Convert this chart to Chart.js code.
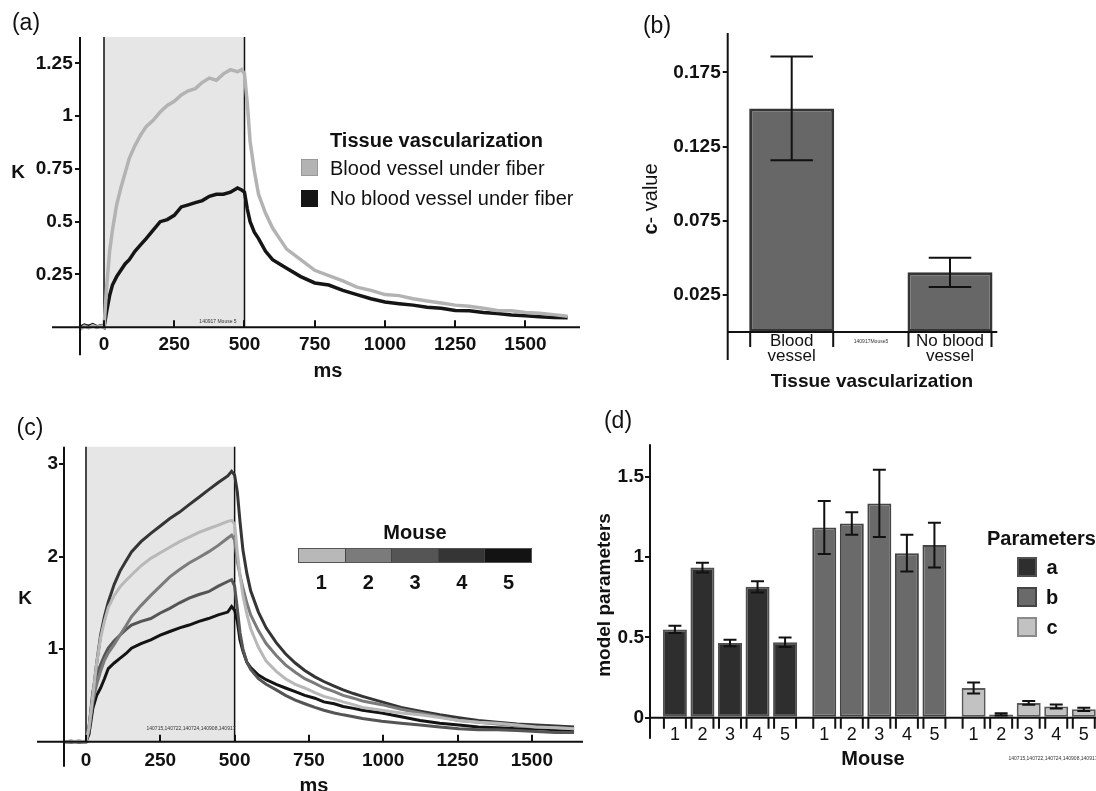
<!DOCTYPE html>
<html>
<head>
<meta charset="utf-8">
<script src="https://cdn.jsdelivr.net/npm/chart.js@4.4.1/dist/chart.umd.min.js"></script>
<style>
html, body { margin: 0; padding: 0; background: #fff; overflow: hidden; }
body { width: 1096px; height: 791px; position: relative; font-family: 'Liberation Sans', Arial, sans-serif; color: #111; }
canvas { position: absolute; }
.t { position: absolute; white-space: nowrap; line-height: 1; transform: translate(-50%, -50%); }
.l { position: absolute; white-space: nowrap; line-height: 1; transform: translate(0, -50%); }
.rot { transform: translate(-50%, -50%) rotate(-90deg); }
.b { font-weight: bold; }
.panel { font-size: 23px; }
.tiny { font-size: 5px; color: #333; }
.sq { position: absolute; box-sizing: border-box; }
</style>
</head>
<body>

<canvas id="chartA" width="590" height="390" style="left:0;top:0"></canvas>
<canvas id="chartB" width="506" height="390" style="left:590px;top:0"></canvas>
<canvas id="chartC" width="590" height="396" style="left:0;top:395px"></canvas>
<canvas id="chartD" width="506" height="396" style="left:590px;top:395px"></canvas>

<!-- panel labels -->
<div class="t panel" style="left:26px;top:22px">(a)</div>
<div class="t panel" style="left:657px;top:25px">(b)</div>
<div class="t panel" style="left:30px;top:427px">(c)</div>
<div class="t panel" style="left:618px;top:420px">(d)</div>

<!-- (a) titles + legend -->
<div class="t b" style="left:18px;top:171px;font-size:19px">K</div>
<div class="t b" style="left:328px;top:370px;font-size:20px">ms</div>
<div class="tiny t" style="left:218px;top:321px">140917 Mouse 5</div>
<div class="l b" style="left:330px;top:140px;font-size:20px">Tissue vascularization</div>
<div class="sq" style="left:301px;top:159px;width:17px;height:17px;background:#b3b3b3;border:1px solid #999"></div>
<div class="l" style="left:330px;top:168px;font-size:20px">Blood vessel under fiber</div>
<div class="sq" style="left:301px;top:190px;width:17px;height:17px;background:#151515"></div>
<div class="l" style="left:330px;top:198px;font-size:20px">No blood vessel under fiber</div>

<!-- (b) titles -->
<div class="t rot" style="left:650px;top:199px;font-size:20px"><b>c</b>- value</div>
<div class="t b" style="left:872px;top:380px;font-size:19px">Tissue vascularization</div>
<div class="tiny t" style="left:871px;top:341px">140917Mouse5</div>

<!-- (c) titles + legend -->
<div class="t b" style="left:25px;top:597px;font-size:19px">K</div>
<div class="t b" style="left:314px;top:785px;font-size:20px">ms</div>
<div class="tiny t" style="left:191px;top:728px">140715,140722,140724,140908,140917</div>
<div class="t b" style="left:415px;top:532px;font-size:20px">Mouse</div>
<div id="mouseBar" style="position:absolute;left:298px;top:548px;width:234px;height:15px;display:flex;border:1px solid #555;box-sizing:border-box"></div>
<div id="mouseNums"></div>

<!-- (d) titles + legend -->
<div class="t rot b" style="left:603px;top:595px;font-size:19px">model parameters</div>
<div class="t b" style="left:873px;top:758px;font-size:20px">Mouse</div>
<div class="tiny t" style="left:1053px;top:758px">140715,140722,140724,140908,140917</div>
<div class="l b" style="left:987px;top:538px;font-size:20px">Parameters</div>
<div id="paramLegend"></div>

<script>
// ---------- data ----------
// (a) one mouse, K over time for both tissue types
const TIME_A = [-85,-70,-55,-40,-25,-10,0,10,20,30,45,60,75,90,110,130,150,175,200,225,250,275,300,325,350,375,400,425,450,475,490,500,510,520,535,550,575,600,625,650,700,750,800,850,900,950,1000,1050,1100,1150,1200,1250,1300,1350,1400,1450,1500,1550,1600,1650];
const BLOOD_A = [-0.01,0.005,-0.003,0.008,0,0.006,0,0.2,0.36,0.46,0.58,0.66,0.73,0.8,0.86,0.91,0.95,0.98,1.02,1.05,1.07,1.1,1.12,1.13,1.16,1.18,1.17,1.2,1.22,1.21,1.22,1.2,1.06,0.88,0.74,0.63,0.54,0.47,0.42,0.37,0.32,0.27,0.245,0.22,0.19,0.175,0.155,0.15,0.135,0.125,0.115,0.105,0.1,0.09,0.08,0.078,0.07,0.066,0.06,0.052];
const NO_BLOOD_A = [0,0.01,0.004,0.012,0.002,0.008,0,0.08,0.15,0.2,0.24,0.27,0.3,0.32,0.36,0.39,0.42,0.46,0.5,0.51,0.53,0.57,0.58,0.59,0.6,0.62,0.63,0.63,0.64,0.66,0.65,0.64,0.56,0.5,0.45,0.42,0.36,0.32,0.3,0.28,0.24,0.21,0.2,0.175,0.155,0.135,0.12,0.112,0.105,0.095,0.09,0.08,0.078,0.07,0.065,0.058,0.055,0.05,0.046,0.045];
const X_TICKS = [0,250,500,750,1000,1250,1500];
const Y_TICKS_A = [0.25,0.5,0.75,1,1.25];
const STIM_ON = 0, STIM_OFF = 500;

// (b) c-value per tissue type
const VASC_LABELS = [['Blood','vessel'],['No blood','vessel']];
const C_VALUE = [0.1507, 0.0402];
const C_ERR = [0.035, 0.0098];
const Y_TICKS_B = [0.025,0.075,0.125,0.175];

// (c) five mice
const TIME_C = [-75,-50,-25,0,10,23,36,49,62,75,95,114,134,153,185,218,250,282,315,347,380,412,445,477,490,500,509,518,528,541,554,580,606,640,671,704,736,770,800,835,865,900,930,995,1060,1124,1190,1254,1320,1383,1450,1513,1580,1642];
const MOUSE1_K = [0,0,0.005,0,0.15,0.5,0.85,1.12,1.3,1.45,1.58,1.67,1.74,1.8,1.9,1.98,2.04,2.1,2.16,2.21,2.26,2.3,2.34,2.38,2.39,2.35,2.05,1.8,1.58,1.38,1.22,1.02,0.87,0.76,0.68,0.62,0.58,0.53,0.49,0.46,0.43,0.4,0.37,0.34,0.31,0.29,0.26,0.23,0.21,0.2,0.18,0.16,0.15,0.14];
const MOUSE2_K = [0,0,0.005,0,0.12,0.43,0.62,0.76,0.88,0.96,1.05,1.15,1.25,1.35,1.47,1.58,1.68,1.78,1.86,1.93,1.99,2.05,2.12,2.2,2.23,2.18,1.95,1.8,1.66,1.5,1.37,1.2,1.06,0.93,0.83,0.75,0.68,0.63,0.58,0.54,0.5,0.47,0.44,0.4,0.35,0.31,0.27,0.23,0.21,0.19,0.17,0.16,0.15,0.14];
const MOUSE3_K = [0,0.005,0,0,0.15,0.54,0.72,0.83,0.93,1.01,1.09,1.15,1.21,1.26,1.3,1.33,1.39,1.44,1.5,1.55,1.59,1.62,1.68,1.73,1.75,1.68,1.44,1.18,1,0.86,0.78,0.68,0.62,0.56,0.5,0.45,0.41,0.37,0.34,0.31,0.29,0.27,0.25,0.22,0.2,0.18,0.16,0.14,0.13,0.13,0.12,0.11,0.1,0.1];
const MOUSE4_K = [0,0.005,-0.005,0,0.15,0.5,0.85,1.15,1.35,1.51,1.7,1.84,1.95,2.05,2.16,2.25,2.33,2.41,2.48,2.56,2.64,2.72,2.8,2.87,2.92,2.88,2.7,2.38,2.07,1.82,1.63,1.4,1.23,1.07,0.95,0.85,0.77,0.7,0.65,0.6,0.56,0.52,0.49,0.43,0.37,0.33,0.29,0.26,0.23,0.21,0.19,0.18,0.17,0.16];
const MOUSE5_K = [0,-0.005,0.005,0,0.08,0.36,0.5,0.58,0.68,0.79,0.85,0.9,0.95,1.01,1.06,1.1,1.15,1.19,1.23,1.26,1.3,1.33,1.37,1.4,1.46,1.42,1.3,1.1,0.98,0.86,0.8,0.72,0.67,0.62,0.58,0.54,0.5,0.47,0.43,0.41,0.38,0.36,0.34,0.31,0.27,0.23,0.2,0.18,0.16,0.15,0.14,0.14,0.13,0.12];
const MICE = ['1','2','3','4','5'];
const MOUSE_COLORS = ['#b8b8b8','#7b7b7b','#555555','#353535','#131313'];
const Y_TICKS_C = [1,2,3];

// (d) model parameters a, b, c for each mouse
const PARAMS = ['a','b','c'];
const PARAM_A = [0.55, 0.935, 0.465, 0.815, 0.47];
const PARAM_A_ERR = [0.022, 0.03, 0.02, 0.035, 0.03];
const PARAM_B = [1.185, 1.21, 1.335, 1.025, 1.075];
const PARAM_B_ERR = [0.165, 0.07, 0.21, 0.115, 0.14];
const PARAM_C = [0.185, 0.02, 0.092, 0.07, 0.052];
const PARAM_C_ERR = [0.035, 0.007, 0.012, 0.012, 0.01];
const PARAM_FILL = ['#2e2e2e','#6a6a6a','#c2c2c2'];
const PARAM_EDGE = ['#505050','#454545','#5a5a5a'];
const Y_TICKS_D = [0,0.5,1,1.5];

// ---------- common ----------
const FONT = "'Liberation Sans', Arial, sans-serif";
Chart.defaults.font.family = FONT;
Chart.defaults.color = '#111';
Chart.defaults.animation = false;
Chart.defaults.events = [];

const pts = (xs, ys) => xs.map((x, i) => ({x: x, y: ys[i]}));
const setTicks = list => scale => { scale.ticks = list.map(v => ({value: v})); };

// axis lines that run past the plot corner, like the original figure
const axisLines = {
    id: 'axisLines',
    afterDraw(chart, args, opts) {
        const {ctx, chartArea: a} = chart;
        const y0 = chart.scales.y.getPixelForValue(0);
        ctx.save();
        ctx.strokeStyle = '#111';
        ctx.lineWidth = 2;
        ctx.beginPath();
        ctx.moveTo(a.left - opts.xLeft, y0); ctx.lineTo(a.right, y0);
        ctx.moveTo(a.left, a.top); ctx.lineTo(a.left, a.bottom + opts.yDown);
        ctx.stroke();
        ctx.restore();
    }
};

// grey box for the stimulation window
const stimBox = {
    id: 'stimBox',
    beforeDatasetsDraw(chart) {
        const {ctx, chartArea: a, scales: {x, y}} = chart;
        const x0 = x.getPixelForValue(STIM_ON), x1 = x.getPixelForValue(STIM_OFF);
        const yb = y.getPixelForValue(0);
        ctx.save();
        ctx.fillStyle = '#e6e6e6';
        ctx.fillRect(x0, a.top, x1 - x0, yb - a.top);
        ctx.strokeStyle = '#111';
        ctx.lineWidth = 1.5;
        ctx.beginPath();
        ctx.moveTo(x0, a.top); ctx.lineTo(x0, yb);
        ctx.moveTo(x1, a.top); ctx.lineTo(x1, yb);
        ctx.stroke();
        ctx.restore();
    }
};

const errorBars = {
    id: 'errorBars',
    afterDatasetsDraw(chart, args, opts) {
        const ctx = chart.ctx, ys = chart.scales.y;
        ctx.save();
        ctx.strokeStyle = '#111';
        ctx.lineWidth = 2;
        chart.data.datasets.forEach((ds, di) => {
            if (!ds.errors) return;
            chart.getDatasetMeta(di).data.forEach((bar, i) => {
                const v = ds.data[i].y, e = ds.errors[i];
                const top = ys.getPixelForValue(v + e), bot = ys.getPixelForValue(v - e);
                const half = bar.width * opts.cap / 2;
                ctx.beginPath();
                ctx.moveTo(bar.x, top); ctx.lineTo(bar.x, bot);
                ctx.moveTo(bar.x - half, top); ctx.lineTo(bar.x + half, top);
                ctx.moveTo(bar.x - half, bot); ctx.lineTo(bar.x + half, bot);
                ctx.stroke();
            });
        });
        ctx.restore();
    }
};

// tick marks at both edges of every bar, optional label under each bar
const barTicks = {
    id: 'barTicks',
    afterDraw(chart, args, opts) {
        const ctx = chart.ctx;
        const y0 = chart.scales.y.getPixelForValue(0);
        ctx.save();
        ctx.strokeStyle = '#111';
        ctx.lineWidth = 2;
        ctx.fillStyle = '#111';
        ctx.font = '18px ' + FONT;
        ctx.textAlign = 'center';
        ctx.textBaseline = 'middle';
        chart.data.datasets.forEach((ds, di) => {
            chart.getDatasetMeta(di).data.forEach(bar => {
                ctx.beginPath();
                [bar.x - bar.width / 2 + 1, bar.x + bar.width / 2 - 1].forEach(px => {
                    ctx.moveTo(px, y0); ctx.lineTo(px, y0 + opts.length);
                });
                ctx.stroke();
                if (opts.labels) ctx.fillText(ds.label, bar.x, y0 + opts.labelOffset);
            });
        });
        ctx.restore();
    }
};

function yScale(max, ticks, width, pad) {
    return {
        min: 0, max: max,
        afterBuildTicks: setTicks(ticks),
        afterFit: s => { s.width = width; },
        border: {display: false},
        grid: {drawOnChartArea: false, tickLength: 5, color: '#111', lineWidth: 2, z: 1},
        ticks: {padding: pad, font: {size: 19, weight: 'bold'}, color: '#111', callback: v => String(v)}
    };
}

function timeXScale(min, max, pad) {
    return {
        type: 'linear', min: min, max: max,
        afterBuildTicks: setTicks(X_TICKS),
        afterFit: s => { s.height = 40; },
        border: {display: false},
        grid: {drawOnChartArea: false, tickLength: -7, color: '#111', lineWidth: 2, z: 1},
        ticks: {padding: pad, font: {size: 19, weight: 'bold'}, color: '#111', maxRotation: 0, autoSkip: false, callback: v => String(v)}
    };
}

// ---------- (a) ----------
new Chart(document.getElementById('chartA'), {
    type: 'line',
    data: {
        datasets: [
            {label: 'Blood vessel under fiber', data: pts(TIME_A, BLOOD_A), borderColor: '#b3b3b3', borderWidth: 3.5, pointRadius: 0, clip: false},
            {label: 'No blood vessel under fiber', data: pts(TIME_A, NO_BLOOD_A), borderColor: '#151515', borderWidth: 3.5, pointRadius: 0, clip: false}
        ]
    },
    options: {
        responsive: false,
        layout: {padding: {left: 30, top: 37, right: 10, bottom: 22.7}},
        plugins: {legend: {display: false}, tooltip: {enabled: false}, axisLines: {xLeft: 28, yDown: 28}},
        scales: {
            x: timeXScale(-85.4, 1694, 13.3),
            y: yScale(1.3745, Y_TICKS_A, 50, 2.3)
        }
    },
    plugins: [stimBox, axisLines]
});

// ---------- (b) ----------
new Chart(document.getElementById('chartB'), {
    type: 'bar',
    data: {
        datasets: [{
            label: 'c - value',
            data: C_VALUE.map((v, i) => ({x: i + 1, y: v})),
            errors: C_ERR,
            backgroundColor: '#676767',
            borderColor: '#353535',
            borderWidth: 3,
            borderSkipped: false,
            categoryPercentage: 1,
            barPercentage: 0.537
        }]
    },
    options: {
        responsive: false,
        layout: {padding: {left: 77.7, top: 33, right: 98.7, bottom: 18}},
        plugins: {legend: {display: false}, tooltip: {enabled: false}, axisLines: {xLeft: 0, yDown: 28}, errorBars: {cap: 0.5}, barTicks: {length: 15, labels: false}},
        scales: {
            x: {
                type: 'linear', min: 0.5957, max: 2.2988, offset: false,
                afterBuildTicks: setTicks([1, 2]),
                afterFit: s => { s.height = 40; },
                border: {display: false},
                grid: {display: false, drawTicks: false},
                ticks: {padding: 2.5, font: {size: 17, lineHeight: 0.85}, color: '#111', maxRotation: 0, autoSkip: false,
                        callback: (v, i) => VASC_LABELS[i]}
            },
            y: yScale(0.2015, Y_TICKS_B, 60, 2)
        }
    },
    plugins: [errorBars, barTicks, axisLines]
});

// ---------- (c) ----------
const MOUSE_SERIES = [MOUSE1_K, MOUSE2_K, MOUSE3_K, MOUSE4_K, MOUSE5_K];
new Chart(document.getElementById('chartC'), {
    type: 'line',
    data: {
        datasets: MOUSE_SERIES.map((k, m) => ({
            label: MICE[m], data: pts(TIME_C, k), borderColor: MOUSE_COLORS[m],
            borderWidth: 3, pointRadius: 0, clip: false
        }))
    },
    options: {
        responsive: false,
        layout: {padding: {left: 24, top: 51.7, right: 7, bottom: 9.3}},
        plugins: {legend: {display: false}, tooltip: {enabled: false}, axisLines: {xLeft: 27, yDown: 25}},
        scales: {
            x: timeXScale(-74, 1672, 14.9),
            y: yScale(3.186, Y_TICKS_C, 40, 1)
        }
    },
    plugins: [stimBox, axisLines]
});

// ---------- (d) ----------
const PARAM_SETS = [[PARAM_A, PARAM_A_ERR], [PARAM_B, PARAM_B_ERR], [PARAM_C, PARAM_C_ERR]];
new Chart(document.getElementById('chartD'), {
    type: 'bar',
    data: {
        datasets: MICE.map((name, m) => ({
            label: name,
            data: PARAM_SETS.map((p, g) => ({x: g + 1, y: p[0][m]})),
            errors: PARAM_SETS.map(p => p[1][m]),
            backgroundColor: PARAM_FILL,
            borderColor: PARAM_EDGE,
            borderWidth: 2,
            borderSkipped: false,
            categoryPercentage: 0.922,
            barPercentage: 0.871
        }))
    },
    options: {
        responsive: false,
        layout: {padding: {left: 15, top: 49.3, right: 0, bottom: 33.3}},
        plugins: {legend: {display: false}, tooltip: {enabled: false}, axisLines: {xLeft: 0, yDown: 21}, errorBars: {cap: 0.54}, barTicks: {length: 11, labels: true, labelOffset: 17}},
        scales: {
            x: {
                type: 'linear', min: 0.4644, max: 3.4506, offset: false,
                afterBuildTicks: setTicks(PARAMS.map((p, i) => i + 1)),
                afterFit: s => { s.height = 40; },
                border: {display: false},
                grid: {display: false, drawTicks: false},
                ticks: {display: false}
            },
            y: yScale(1.703, Y_TICKS_D, 45, 1)
        }
    },
    plugins: [errorBars, barTicks, axisLines]
});

// ---------- html legends ----------
const bar = document.getElementById('mouseBar');
const nums = document.getElementById('mouseNums');
MICE.forEach((m, i) => {
    const seg = document.createElement('div');
    seg.style.cssText = 'flex:1;background:' + MOUSE_COLORS[i] + ';' + (i ? 'border-left:1px solid #444;' : '');
    bar.appendChild(seg);
    const n = document.createElement('div');
    n.className = 't b';
    n.style.cssText = 'left:' + (298 + 234 / MICE.length * (i + 0.5)) + 'px;top:582px;font-size:20px';
    n.textContent = m;
    nums.appendChild(n);
});

const pl = document.getElementById('paramLegend');
PARAMS.forEach((p, i) => {
    const top = 557 + i * 30;
    const sq = document.createElement('div');
    sq.className = 'sq';
    sq.style.cssText = 'left:1017px;top:' + top + 'px;width:20px;height:20px;background:' + PARAM_FILL[i] + ';border:2px solid ' + (i === 2 ? '#8a8a8a' : PARAM_EDGE[i]);
    pl.appendChild(sq);
    const lab = document.createElement('div');
    lab.className = 't b';
    lab.style.cssText = 'left:1052px;top:' + (top + 10) + 'px;font-size:20px';
    lab.textContent = p;
    pl.appendChild(lab);
});
</script>
</body>
</html>
